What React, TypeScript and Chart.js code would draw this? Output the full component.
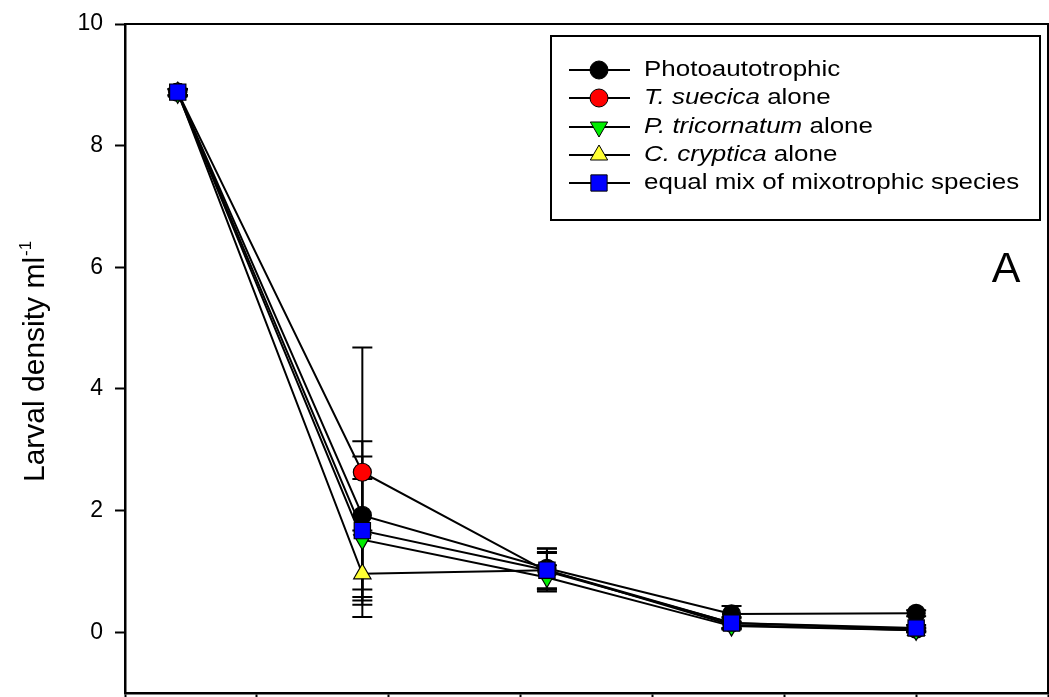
import React, { useEffect, useRef } from "react";
import { Chart, registerables } from "chart.js";
import { drawPoint } from "chart.js/helpers";

Chart.register(...registerables);

const days = [2, 9, 16, 23, 30];
const yTicks = [0, 2, 4, 6, 8, 10];
const xTicks = [0, 5, 10, 15, 20, 25, 30, 35];

const photoVals = [8.88, 1.92, 1.05, 0.3, 0.31];
const photoErr = [0.05, 1.22, 0.33, 0.13, 0.05];
const suecicaVals = [8.88, 2.63, 1.0, 0.15, 0.05];
const suecicaErr = [0.05, 2.05, 0.3, 0.08, 0.03];
const tricornVals = [8.86, 1.52, 0.9, 0.1, 0.03];
const tricornErr = [0.05, 1.0, 0.2, 0.05, 0.03];
const crypticaVals = [8.88, 0.96, 1.02, 0.12, 0.03];
const crypticaErr = [0.05, 0.71, 0.3, 0.05, 0.03];
const mixVals = [8.88, 1.67, 1.02, 0.15, 0.07];
const mixErr = [0.05, 1.22, 0.35, 0.1, 0.05];

const FONT = "'Liberation Sans', Arial, sans-serif";

type Seg = { t: string; i: boolean };
const series = [
  { label: "Photoautotrophic", segs: [{ t: "Photoautotrophic", i: false }], vals: photoVals, err: photoErr, color: "#000000", style: "circle", rot: 0, r: 9 },
  { label: "T. suecica alone", segs: [{ t: "T. suecica", i: true }, { t: " alone", i: false }], vals: suecicaVals, err: suecicaErr, color: "#ff0000", style: "circle", rot: 0, r: 9 },
  { label: "P. tricornatum alone", segs: [{ t: "P. tricornatum", i: true }, { t: " alone", i: false }], vals: tricornVals, err: tricornErr, color: "#00ee00", style: "triangle", rot: 180, r: 10 },
  { label: "C. cryptica alone", segs: [{ t: "C. cryptica", i: true }, { t: " alone", i: false }], vals: crypticaVals, err: crypticaErr, color: "#ffff33", style: "triangle", rot: 0, r: 10 },
  { label: "equal mix of mixotrophic species", segs: [{ t: "equal mix of mixotrophic species", i: false }], vals: mixVals, err: mixErr, color: "#0000ff", style: "rect", rot: 0, r: 11.5 },
];

const errorBarPlugin = {
  id: "errorBars",
  beforeDatasetsDraw(chart: any) {
    const { ctx, scales } = chart;
    const xs = scales.x, ys = scales.y;
    ctx.save();
    ctx.strokeStyle = "#000";
    ctx.lineWidth = 2;
    series.forEach((s) => {
      days.forEach((d, i) => {
        const px = xs.getPixelForValue(d);
        const top = ys.getPixelForValue(s.vals[i] + s.err[i]);
        const bot = ys.getPixelForValue(s.vals[i] - s.err[i]);
        ctx.beginPath();
        ctx.moveTo(px, top);
        ctx.lineTo(px, bot);
        ctx.moveTo(px - 10, top);
        ctx.lineTo(px + 10, top);
        ctx.moveTo(px - 10, bot);
        ctx.lineTo(px + 10, bot);
        ctx.stroke();
      });
    });
    ctx.restore();
  },
};

const decorPlugin = {
  id: "decor",
  afterDraw(chart: any) {
    const { ctx, chartArea } = chart;
    ctx.save();
    // frame
    ctx.strokeStyle = "#000";
    ctx.lineWidth = 2;
    ctx.beginPath();
    ctx.moveTo(chartArea.left, chartArea.top);
    ctx.lineTo(chartArea.right, chartArea.top);
    ctx.lineTo(chartArea.right, chartArea.bottom);
    ctx.stroke();

    // y title
    ctx.save();
    ctx.translate(44, 482);
    ctx.rotate(-Math.PI / 2);
    ctx.fillStyle = "#000";
    ctx.textBaseline = "alphabetic";
    ctx.textAlign = "left";
    ctx.font = `30px ${FONT}`;
    const main = "Larval density ml";
    ctx.fillText(main, 0, 0);
    const w = ctx.measureText(main).width;
    ctx.font = `17px ${FONT}`;
    ctx.fillText("-1", w + 1, -13);
    ctx.restore();

    // panel letter
    ctx.fillStyle = "#000";
    ctx.font = `43px ${FONT}`;
    ctx.textAlign = "center";
    ctx.textBaseline = "alphabetic";
    ctx.fillText("A", 1006, 282);

    // legend
    const bx = 551, by = 36, bw = 489, bh = 184;
    ctx.fillStyle = "#fff";
    ctx.fillRect(bx, by, bw, bh);
    ctx.strokeStyle = "#000";
    ctx.lineWidth = 2;
    ctx.strokeRect(bx, by, bw, bh);
    const rowY = [70, 98, 127, 155, 183];
    const stretch = 1.18;
    series.forEach((s, i) => {
      const y = rowY[i];
      ctx.strokeStyle = "#000";
      ctx.lineWidth = 2;
      ctx.beginPath();
      ctx.moveTo(569, y);
      ctx.lineTo(630, y);
      ctx.stroke();
      ctx.fillStyle = s.color;
      ctx.strokeStyle = "#000";
      ctx.lineWidth = 1;
      drawPoint(ctx, { pointStyle: s.style, rotation: s.rot, radius: s.r, borderWidth: 1 } as any, 599, y);
      let tx = 0;
      ctx.save();
      ctx.translate(644, y);
      ctx.scale(stretch, 1);
      ctx.fillStyle = "#000";
      ctx.textAlign = "left";
      ctx.textBaseline = "middle";
      (s.segs as Seg[]).forEach((seg) => {
        ctx.font = `${seg.i ? "italic " : ""}22px ${FONT}`;
        ctx.fillText(seg.t, tx, 0);
        tx += ctx.measureText(seg.t).width;
      });
      ctx.restore();
    });
    ctx.restore();
  },
};

export default function App() {
  const ref = useRef<HTMLCanvasElement>(null);
  useEffect(() => {
    document.body.style.margin = "0";
    const canvas = ref.current!;
    const chart = new Chart(canvas, {
      type: "line",
      data: {
        datasets: series.map((s, i) => ({
          label: s.label,
          data: days.map((d, j) => ({ x: d, y: s.vals[j] })),
          borderColor: "#000",
          borderWidth: 2,
          backgroundColor: s.color,
          pointBackgroundColor: s.color,
          pointBorderColor: "#000",
          pointBorderWidth: 1.2,
          pointStyle: s.style as any,
          pointRotation: s.rot,
          pointRadius: s.r,
          tension: 0,
          fill: false,
          clip: false,
          order: series.length - 1 - i,
        })),
      },
      options: {
        animation: false,
        responsive: false,
        events: [],
        layout: { autoPadding: false, padding: { top: 24, right: 1, bottom: 0, left: 0 } },
        plugins: { legend: { display: false }, tooltip: { enabled: false } },
        scales: {
          x: {
            type: "linear",
            min: 0,
            max: 35,
            afterBuildTicks: (sc: any) => {
              sc.ticks = xTicks.map((v) => ({ value: v }));
            },
            afterFit: (sc: any) => {
              sc.height = 4;
              sc.paddingLeft = 0;
              sc.paddingRight = 0;
              sc.paddingTop = 0;
              sc.paddingBottom = 0;
            },
            ticks: { display: false },
            grid: { drawOnChartArea: false, drawTicks: true, tickLength: 10, color: "#000", tickWidth: 2 },
            border: { display: true, color: "#000", width: 2.5 },
          },
          y: {
            type: "linear",
            min: -1,
            max: 10,
            afterBuildTicks: (sc: any) => {
              sc.ticks = yTicks.map((v) => ({ value: v }));
            },
            afterFit: (sc: any) => {
              sc.width = 125;
              sc.paddingLeft = 0;
              sc.paddingRight = 0;
              sc.paddingTop = 0;
              sc.paddingBottom = 0;
            },
            ticks: { color: "#000", font: { family: FONT, size: 23 }, padding: 12 },
            grid: { drawOnChartArea: false, drawTicks: true, tickLength: 10, color: "#000", tickWidth: 2 },
            border: { display: true, color: "#000", width: 2.5 },
          },
        },
      },
      plugins: [errorBarPlugin, decorPlugin],
    });
    return () => chart.destroy();
  }, []);
  return (
    <div style={{ position: "absolute", left: 0, top: 0, width: 1049, height: 697, background: "#fff" }}>
      <canvas ref={ref} width={1049} height={697} />
    </div>
  );
}
